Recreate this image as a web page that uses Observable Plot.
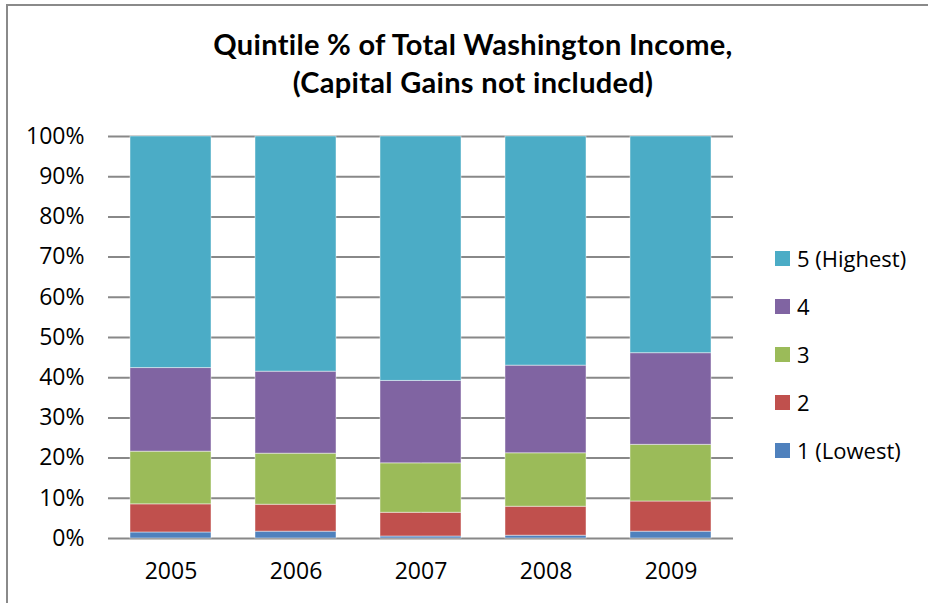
<!DOCTYPE html>
<html>
<head>
<meta charset="utf-8">
<script src="https://cdn.jsdelivr.net/npm/d3@7"></script>
<script src="https://cdn.jsdelivr.net/npm/@observablehq/plot@0.6"></script>
<style>
  html, body { margin: 0; padding: 0; background: #fff; }
  #wrap { position: relative; width: 928px; height: 603px; overflow: hidden; font-family: "Open Sans", sans-serif; }
  #frameTop { position: absolute; left: 6px; top: 4px; width: 922px; height: 0; border-top: 2px solid #8a8a8a; }
  #frameLeft { position: absolute; left: 6px; top: 4px; width: 0; height: 599px; border-left: 2px solid #8a8a8a; }
  #title { position: absolute; left: 0; top: 25px; width: 946px; text-align: center; font-family: Lato, sans-serif; font-weight: bold; font-size: 29px; line-height: 38px; letter-spacing: 0.3px; color: #000; }
  #chart { position: absolute; left: 0; top: 0; }
  #legend { position: absolute; left: 775px; top: 234px; font-size: 22px; color: #000; }
  .item { display: flex; align-items: center; height: 48px; }
  .sw { width: 15px; height: 15px; margin-right: 7px; }
</style>
</head>
<body>
<div id="wrap">
  <div id="frameTop"></div>
  <div id="frameLeft"></div>
  <div id="chart"></div>
  <div id="title">Quintile % of Total Washington Income,<br>(Capital Gains not included)</div>
  <div id="legend"></div>
</div>
<script>
const years = ["2005", "2006", "2007", "2008", "2009"];
const quintiles = ["1 (Lowest)", "2", "3", "4", "5 (Highest)"];
const colors = ["#4F81BD", "#C0504D", "#9BBB59", "#8064A2", "#4BACC6"];
// share (%) of total income by quintile, per year
const q1 = [1.5, 1.7, 0.5, 0.7, 1.7];
const q2 = [7.0, 6.7, 5.9, 7.2, 7.5];
const q3 = [13.1, 12.7, 12.3, 13.3, 14.1];
const q4 = [20.8, 20.4, 20.5, 21.8, 22.8];
const q5 = [57.6, 58.5, 60.8, 57.0, 53.9];
const yTicks = [0, 10, 20, 30, 40, 50, 60, 70, 80, 90, 100];

const series = [q1, q2, q3, q4, q5];
const rows = [];
years.forEach((yr, i) => {
  series.forEach((s, k) => rows.push({year: yr, quintile: quintiles[k], value: s[i]}));
});

const plot = Plot.plot({
  width: 928,
  height: 603,
  marginLeft: 108,
  marginRight: 195,
  marginTop: 136,
  marginBottom: 65,
  style: {fontFamily: "'Open Sans', sans-serif", fontSize: "23px", color: "#000", background: "transparent"},
  x: {domain: years, paddingInner: 0.352, paddingOuter: 0.176, label: null},
  y: {domain: [0, 100], label: null},
  color: {domain: quintiles, range: colors},
  marks: [
    Plot.ruleY(yTicks, {stroke: "#888", strokeWidth: 2}),
    Plot.ruleX([0], {frameAnchor: "left", x: null, y1: 0, y2: 100, stroke: "#888", strokeWidth: 2}),
    Plot.barY(rows, Plot.stackY({x: "year", y: "value", fill: "quintile", order: quintiles, stroke: "#ffffff", strokeOpacity: 0.45, strokeWidth: 1})),
    Plot.axisY({ticks: yTicks, tickSize: 0, tickPadding: 24, tickFormat: d => d + "%", fontSize: 23}),
    Plot.axisX({tickSize: 0, tickPadding: 24, fontSize: 23})
  ]
});
document.getElementById("chart").appendChild(plot);

const legend = document.getElementById("legend");
[...quintiles].reverse().forEach((q) => {
  const k = quintiles.indexOf(q);
  const item = document.createElement("div");
  item.className = "item";
  const sw = document.createElement("div");
  sw.className = "sw";
  sw.style.background = colors[k];
  const t = document.createElement("span");
  t.textContent = q;
  item.appendChild(sw);
  item.appendChild(t);
  legend.appendChild(item);
});
</script>
</body>
</html>
